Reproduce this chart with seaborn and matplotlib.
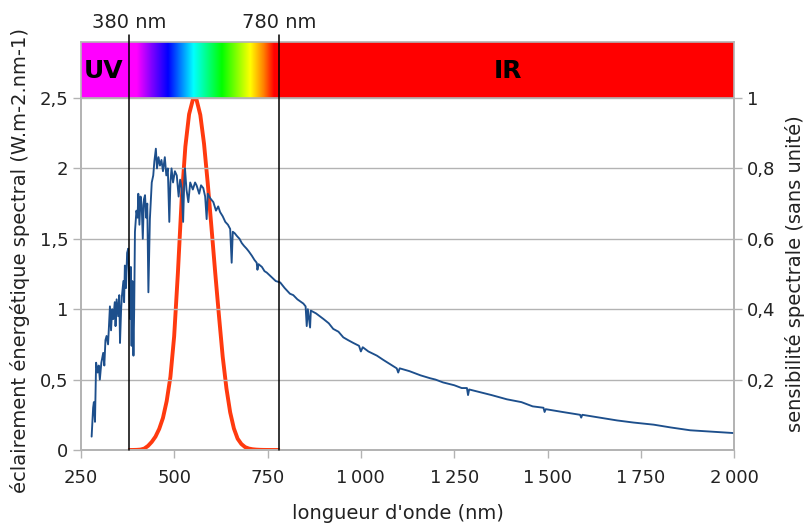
import numpy as np
import matplotlib
matplotlib.use("Agg")
import matplotlib.pyplot as plt
import seaborn as sns
from matplotlib import font_manager
from matplotlib.colors import LinearSegmentedColormap
from matplotlib.ticker import FuncFormatter, MultipleLocator

# solar spectral irradiance
wavelength = [279, 283, 285, 288, 291, 295, 298, 301, 305, 310, 313, 316, 319, 323, 328, 331,
              334, 337, 341, 343, 346, 350, 353, 355, 358, 360, 364, 366, 368, 371, 374, 377,
              379, 382, 384, 386, 388, 391, 393, 395, 399, 402, 404, 407, 410, 413, 416, 419,
              422, 425, 428, 431, 433, 435, 438, 440, 444, 447, 451, 454, 458, 462, 466, 470,
              475, 479, 483, 487, 490, 493, 497, 502, 507, 512, 516, 520, 524, 527, 529, 533,
              538, 543, 550, 556, 560, 567, 572, 578, 583, 587, 590, 596, 605, 612, 618, 623,
              630, 637, 644, 650, 654, 657, 662, 668, 675, 681, 687, 694, 700, 708, 715, 721,
              723, 726, 735, 742, 748, 756, 764, 772, 784, 796, 810, 819, 830, 846, 852, 855,
              858, 864, 866, 880, 900, 914, 926, 940, 953, 966, 980, 995, 1000, 1005, 1020, 1043,
              1060, 1078, 1096, 1100, 1104, 1130, 1160, 1185, 1200, 1220, 1250, 1270, 1284, 1287,
              1290, 1320, 1350, 1391, 1430, 1460, 1489, 1492, 1495, 1540, 1587, 1590, 1593, 1640,
              1686, 1730, 1784, 1830, 1882, 1940, 2000]
irradiance = [0.095, 0.30, 0.34, 0.20, 0.62, 0.55, 0.60, 0.50, 0.62, 0.69, 0.60, 0.78, 0.81, 0.75, 1.02, 0.85,
              1.00, 0.93, 1.05, 0.88, 1.07, 0.95, 1.10, 0.76, 1.00, 1.09, 1.20, 1.05, 1.31, 1.15, 1.40, 1.43,
              1.25, 0.93, 1.30, 0.74, 1.20, 0.67, 1.00, 1.55, 1.70, 1.65, 1.82, 1.60, 1.80, 1.74, 1.50, 1.78,
              1.81, 1.65, 1.75, 1.12, 1.40, 1.64, 1.80, 1.90, 1.95, 2.05, 2.14, 2.00, 2.08, 2.02, 2.06, 1.98,
              2.08, 1.95, 2.00, 1.62, 1.90, 2.00, 1.90, 1.98, 1.95, 1.80, 1.92, 1.86, 1.62, 1.90, 2.00, 1.85,
              1.76, 1.90, 1.85, 1.90, 1.88, 1.82, 1.88, 1.86, 1.80, 1.64, 1.82, 1.79, 1.76, 1.70, 1.73, 1.69,
              1.66, 1.62, 1.60, 1.57, 1.33, 1.55, 1.54, 1.52, 1.50, 1.47, 1.45, 1.43, 1.41, 1.38, 1.35, 1.33,
              1.28, 1.32, 1.30, 1.27, 1.26, 1.24, 1.22, 1.20, 1.19, 1.15, 1.11, 1.10, 1.07, 1.04, 1.02, 0.88,
              1.00, 0.87, 0.99, 0.97, 0.93, 0.90, 0.86, 0.84, 0.80, 0.78, 0.76, 0.74, 0.70, 0.73, 0.70, 0.67,
              0.64, 0.61, 0.58, 0.55, 0.58, 0.56, 0.53, 0.51, 0.50, 0.48, 0.46, 0.44, 0.44, 0.39,
              0.43, 0.41, 0.39, 0.36, 0.34, 0.31, 0.30, 0.27, 0.29, 0.27, 0.25, 0.23, 0.25, 0.23,
              0.21, 0.195, 0.18, 0.16, 0.14, 0.13, 0.12]

# eye spectral sensitivity (right axis)
v_wavelength = [380, 390, 400, 410, 420, 430, 440, 450, 460, 470, 480, 490, 500, 510, 520, 530,
                540, 550, 555, 560, 570, 580, 590, 600, 610, 620, 630, 640, 650, 660, 670, 680,
                690, 700, 710, 720, 730, 740, 750, 760, 770, 780]
sensitivity = [0.00004, 0.00012, 0.0004, 0.0012, 0.004, 0.0116, 0.023, 0.038, 0.06, 0.091, 0.139, 0.208,
               0.323, 0.503, 0.71, 0.862, 0.954, 0.995, 1.0, 0.995, 0.952, 0.87, 0.757, 0.631, 0.503,
               0.381, 0.265, 0.175, 0.107, 0.061, 0.032, 0.017, 0.0082, 0.0041, 0.0021, 0.00105,
               0.00052, 0.00025, 0.00012, 0.00006, 0.00003, 0.000015]

visible_limits = [380, 780]
band_labels = ["UV", "IR"]
band_label_x = [312, 1395]

rainbow_pos = [0, 0.05, 0.15, 0.26, 0.43, 0.62, 0.81, 0.90, 0.97, 1]
rainbow_col = ["#ff00ff", "#ff00ff", "#8000ff", "#0000ff", "#00ffff", "#00ff00",
               "#ffff00", "#ff8000", "#ff0000", "#ff0000"]

sns.set_theme(style="white")
names = {f.name for f in font_manager.fontManager.ttflist}
narrow = "Liberation Sans Narrow" if "Liberation Sans Narrow" in names else "DejaVu Sans"
plt.rcParams["font.family"] = ["DejaVu Sans"]

grey = "#b3b3b3"
W, H = 807, 524
x0, x1, ytop, ybot = 80.8, 734.3, 98, 450

fig = plt.figure(figsize=(W / 100, H / 100), dpi=100)

# colour band above the plot
axbar = fig.add_axes([x0 / W, 1 - ytop / H, (x1 - x0) / W, 56 / H])
axbar.set_zorder(0)
axbar.axvspan(250, visible_limits[0], color="#ff00ff", lw=0)
axbar.axvspan(visible_limits[1], 2000, color="#ff0000", lw=0)
cmap = LinearSegmentedColormap.from_list("vis", list(zip(rainbow_pos, rainbow_col)))
axbar.imshow(np.linspace(0, 1, 256)[None, :], cmap=cmap, aspect="auto",
             extent=[visible_limits[0], visible_limits[1], 0, 1])
axbar.set_xlim(250, 2000)
axbar.set_ylim(0, 1)
axbar.set_xticks([])
axbar.set_yticks([])
for s in axbar.spines.values():
    s.set_color(grey)
    s.set_linewidth(1.2)
for lab, xl in zip(band_labels, band_label_x):
    axbar.text(xl, 0.48, lab, ha="center", va="center", fontsize=18, fontweight="bold", color="black")

# main axes
ax = fig.add_axes([x0 / W, 1 - ybot / H, (x1 - x0) / W, (ybot - ytop) / H])
ax2 = ax.twinx()
ax.set_zorder(2)
ax2.set_zorder(1)
ax.patch.set_visible(False)
ax2.patch.set_visible(False)

sns.lineplot(x=v_wavelength, y=sensitivity, ax=ax2, color="#ff3a0f", linewidth=2.8)
sns.lineplot(x=wavelength, y=irradiance, ax=ax, color="#1d4f8c", linewidth=1.35)

ax.set_xlim(250, 2000)
ax.set_ylim(0, 2.5)
ax2.set_ylim(0, 1)
ax.xaxis.set_major_locator(MultipleLocator(250))
ax.yaxis.set_major_locator(MultipleLocator(0.5))
ax2.set_yticks([0.2, 0.4, 0.6, 0.8, 1.0])

ax.grid(axis="y", color=grey, linewidth=1)
ax2.grid(False)


def fr_num(v, pos):
    if abs(v - round(v)) < 1e-9:
        n = int(round(v))
        return f"{n:,}".replace(",", "\u2009")
    return f"{v:g}".replace(".", ",")


ax.xaxis.set_major_formatter(FuncFormatter(fr_num))
ax.yaxis.set_major_formatter(FuncFormatter(fr_num))
ax2.yaxis.set_major_formatter(FuncFormatter(fr_num))

for a in (ax, ax2):
    for s in a.spines.values():
        s.set_color(grey)
    a.spines["top"].set_visible(False)
ax.tick_params(axis="x", colors=grey, length=6, width=1, labelcolor="#222222", direction="out",
               bottom=True, pad=8)
ax.tick_params(axis="y", colors=grey, length=6, width=1, labelcolor="#222222", direction="out",
               left=True, pad=3)
ax2.tick_params(axis="y", colors=grey, length=6, width=1, labelcolor="#222222", direction="out",
                right=True, pad=3)
for lbl in ax.get_xticklabels() + ax.get_yticklabels() + ax2.get_yticklabels():
    lbl.set_fontfamily(narrow)
    lbl.set_fontsize(13)

ax.set_xlabel("longueur d'onde (nm)", fontsize=14, color="#222222")
ax.xaxis.set_label_coords(0.485, -0.152)
ax.set_ylabel("éclairement énergétique spectral (W.m-2.nm-1)", fontsize=14, color="#222222", labelpad=7)
ax.yaxis.label.set_y(0.537)
ax2.set_ylabel("sensibilité spectrale (sans unité)", fontsize=14, color="#222222", labelpad=7)

# visible range markers
top = (ybot - 35) / (ybot - ytop)
label_y = (ybot - 22) / (ybot - ytop)
for xv in visible_limits:
    ax.axvline(xv, ymin=0, ymax=top, color="black", linewidth=1.1, clip_on=False, zorder=5)
    ax.text(xv, label_y, f"{xv} nm", transform=ax.get_xaxis_transform(), ha="center", va="center",
            fontsize=14, color="#222222")

fig.savefig("out.png", dpi=100)
